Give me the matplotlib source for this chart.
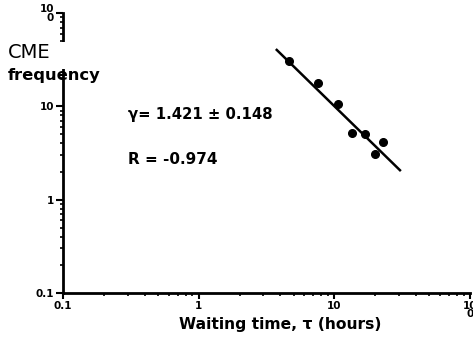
import numpy as np
import matplotlib
matplotlib.use("Agg")
import matplotlib.pyplot as plt
from matplotlib.patches import Rectangle
from matplotlib.ticker import LogLocator, FixedLocator, NullFormatter

plt.rcParams['font.family'] = ['DejaVu Sans']

# waiting time (hours) vs CME frequency
wait_time = [4.6, 7.6, 10.7, 13.4, 16.8, 19.9, 22.9]
frequency = [30.3, 18.0, 10.5, 5.2, 5.1, 3.1, 4.1]

# power-law fit: frequency ~ tau^-gamma
gamma = 1.421
gamma_err = 0.148
r_value = -0.974
fit_x = [3.76, 30.4]
fit_x0, fit_y0 = 3.76, 40.3

x_ticks = [0.1, 1, 10, 100]
x_ticklabels = ['0.1', '1', '10', '10\n0']
y_ticks = [0.1, 1, 10, 100]
y_ticklabels = ['0.1', '1', '10', '10\n0']

fig = plt.figure(figsize=(4.73, 3.45), dpi=100)
ax = fig.add_axes([0.133, 0.151, 0.861, 0.811])

fx = np.array(fit_x)
fy = fit_y0 * (fx / fit_x0) ** (-gamma)
ax.plot(fx, fy, color='black', lw=1.8, zorder=2)
ax.plot(wait_time, frequency, 'o', color='black', ms=5.5, zorder=3)

ax.set_xscale('log')
ax.set_yscale('log')
ax.set_xlim(0.1, 100)
ax.set_ylim(0.1, 100)

ax.xaxis.set_major_locator(FixedLocator(x_ticks))
ax.yaxis.set_major_locator(FixedLocator(y_ticks))
ax.set_xticklabels(x_ticklabels, fontsize=7.5, fontweight='bold', linespacing=0.8)
ax.set_yticklabels(y_ticklabels, fontsize=7.5, fontweight='bold', linespacing=0.8)
ax.xaxis.set_minor_locator(LogLocator(base=10, subs=np.arange(2, 10)))
ax.yaxis.set_minor_locator(LogLocator(base=10, subs=np.arange(2, 10)))
ax.xaxis.set_minor_formatter(NullFormatter())
ax.yaxis.set_minor_formatter(NullFormatter())
ax.tick_params(axis='y', which='major', length=5, width=1.5, pad=1.5)
ax.tick_params(axis='x', which='major', length=4, width=1.5, pad=1.5)
ax.tick_params(which='minor', length=2.5, width=1.2)

for s in ['top', 'right']:
    ax.spines[s].set_visible(False)
for s in ['left', 'bottom']:
    ax.spines[s].set_linewidth(2)

# gap in the y axis behind the label
ax.add_patch(Rectangle((-0.03, (np.log10(25) + 1) / 3), 0.05,
                       (np.log10(48.8) - np.log10(25)) / 3,
                       transform=ax.transAxes, facecolor='white',
                       edgecolor='none', clip_on=False, zorder=5))

fig.text(0.017, 0.848, 'CME', fontsize=14, va='center', ha='left')
fig.text(0.017, 0.782, 'frequency', fontsize=11.8, fontweight='bold',
         va='center', ha='left', zorder=6)

ax.set_xlabel('Waiting time, \u03c4 (hours)', fontsize=11.2,
              fontweight='bold')
ax.xaxis.set_label_coords(0.533, -0.085)

fig.text(0.271, 0.667, '\u03b3= %.3f \u00b1 %.3f' % (gamma, gamma_err),
         fontsize=10.7, fontweight='bold', va='center')
fig.text(0.271, 0.539, 'R = %.3f' % r_value,
         fontsize=11, fontweight='bold', va='center')

fig.savefig('out.png', dpi=100)
